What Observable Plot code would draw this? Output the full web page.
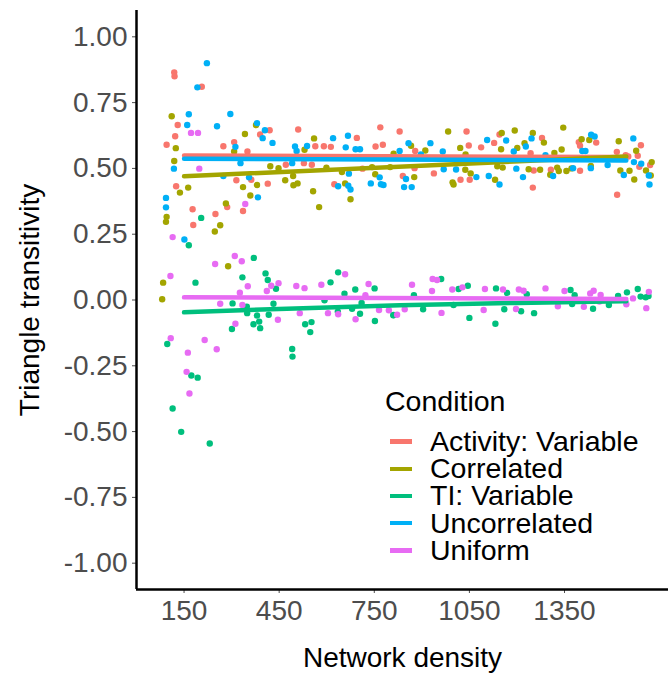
<!DOCTYPE html>
<html>
<head>
<meta charset="utf-8">
<script src="https://cdn.jsdelivr.net/npm/d3@7"></script>
<script src="https://cdn.jsdelivr.net/npm/@observablehq/plot@0.6"></script>
<style>
  html, body { margin: 0; padding: 0; background: #fff; }
  #wrap { position: relative; width: 668px; height: 673px; overflow: hidden; }
  #legend { position: absolute; left: 385px; top: 386px; font-family: "Liberation Sans", Arial, sans-serif; color: #000; }
  #legend .title { font-size: 28.5px; line-height: 30px; height: 30px; }
  #legend .rows { margin-top: 12px; }
  #legend .row { display: flex; align-items: center; height: 27.2px; font-size: 28.5px; line-height: 27px; }
  #legend .key { width: 22px; height: 4.5px; margin-left: 5px; margin-right: 18px; flex: none; }
  #legend .lab { display: inline-block; height: 27px; line-height: 27px; overflow: visible; white-space: nowrap; }
</style>
</head>
<body>
<div id="wrap">
  <div id="chart"></div>
  <div id="legend"></div>
</div>
<script>
// ---- categories, colours, ticks ----
const conditions = ["Activity: Variable", "Correlated", "TI: Variable", "Uncorrelated", "Uniform"];
const palette = ["#F8766D", "#A3A500", "#00BF7D", "#00B0F6", "#E76BF3"];
const xTicks = [150, 450, 750, 1050, 1350];
const yTicks = [-1, -0.75, -0.5, -0.25, 0, 0.25, 0.5, 0.75, 1];

// ---- scatter points (network density, triangle transitivity) ----
const activityX = [119,120,206,130,122,95,125,177,179,274,308,350,315,362,286,249,336,390,420,414,510,471,528,553,564,591,613,624,695,713,754,769,777,830,879,877,840,938,1022,1041,1048,1051,1087,1128,1145,1243,1250,1253,1279,1307,1395,1399,1399,1450,1515,1516,1543,1551,1581,1591,1586,1620];
const activityY = [0.865,0.85,0.81,0.665,0.622,0.59,0.432,0.345,0.285,0.584,0.60,0.564,0.455,0.457,0.353,0.327,0.338,0.629,0.645,0.442,0.648,0.514,0.52,0.514,0.584,0.584,0.582,0.44,0.616,0.499,0.583,0.656,0.59,0.64,0.566,0.501,0.471,0.481,0.457,0.64,0.587,0.457,0.58,0.597,0.629,0.558,0.427,0.492,0.616,0.495,0.60,0.491,0.586,0.598,0.563,0.40,0.55,0.545,0.548,0.588,0.506,0.513];

const correlatedX = [111,124,119,137,163,95,93,84,81,282,247,264,289,342,377,308,336,359,380,422,448,469,494,495,508,530,560,557,576,599,648,658,675,753,743,800,811,983,866,911,876,997,1000,1021,1038,1037,1054,1131,1138,1155,1150,1152,1193,1201,1224,1250,1237,1273,1285,1305,1318,1327,1332,1341,1346,1356,1372,1404,1428,1433,1521,1526,1555,1570,1576,1607,1622,1625];
const correlatedY = [0.698,0.577,0.528,0.408,0.427,0.316,0.297,0.066,0.003,0.367,0.26,0.284,0.128,0.631,0.665,0.564,0.429,0.397,0.437,0.508,0.501,0.455,0.471,0.436,0.443,0.571,0.614,0.413,0.353,0.503,0.486,0.443,0.383,0.478,0.505,0.505,0.556,0.64,0.586,0.568,0.467,0.447,0.439,0.578,0.553,0.495,0.481,0.457,0.508,0.503,0.573,0.635,0.644,0.578,0.596,0.635,0.497,0.495,0.598,0.476,0.559,0.503,0.49,0.572,0.655,0.49,0.5,0.611,0.608,0.509,0.603,0.492,0.491,0.458,0.567,0.492,0.473,0.524];

const tiX = [204,165,186,370,407,414,334,440,612,636,690,751,97,114,141,231,173,193,301,303,349,348,369,380,387,390,417,432,491,492,532,552,548,593,635,656,680,705,710,752,811,961,1045,1016,1050,1132,1134,1169,1160,1213,1231,1254,904,875,1369,1382,1374,1440,1490,1519,1547,1581,1590,1606,1615,810,1000];
const tiY = [0.312,0.208,0.066,0.16,0.101,0.076,0.086,0.043,0.067,0.105,0.04,0.044,-0.167,-0.412,-0.501,-0.545,-0.287,-0.295,-0.11,-0.013,-0.05,-0.025,-0.092,-0.059,-0.082,-0.107,-0.056,-0.014,-0.186,-0.215,-0.092,-0.084,-0.122,-0.001,-0.044,0.024,-0.033,-0.052,-0.011,-0.08,-0.057,0.08,0.054,0.042,-0.068,-0.09,0.044,0.027,-0.035,-0.043,0.022,-0.05,-0.035,0.018,0.038,0.018,-0.015,-0.033,-0.019,0.015,0.029,0.042,0.013,0.01,0.015,-0.058,-0.019];

const uncorrelatedX = [222,192,165,160,118,93,93,151,254,296,312,380,405,398,429,355,383,274,328,500,505,538,620,667,660,691,705,636,670,675,668,739,767,771,779,491,830,858,850,844,868,897,927,966,969,1008,1072,1106,1111,1145,1166,1190,1198,1219,1228,1246,1290,1314,1377,1406,1416,1434,1445,1433,1486,1537,1567,1569,1592,1618,1616];
const uncorrelatedY = [0.90,0.808,0.706,0.665,0.499,0.388,0.352,0.23,0.66,0.707,0.582,0.672,0.645,0.615,0.597,0.466,0.39,0.471,0.52,0.583,0.566,0.585,0.615,0.624,0.58,0.573,0.573,0.432,0.48,0.42,0.434,0.443,0.466,0.44,0.437,0.52,0.566,0.596,0.46,0.429,0.429,0.553,0.596,0.564,0.497,0.496,0.467,0.608,0.471,0.439,0.606,0.564,0.499,0.467,0.583,0.614,0.55,0.471,0.501,0.566,0.566,0.628,0.621,0.501,0.513,0.475,0.614,0.524,0.518,0.439,0.473];

const uniformX = [172,194,198,343,114,248,310,332,107,351,326,425,448,504,530,583,658,732,411,108,162,158,167,215,253,264,312,334,446,515,604,636,691,722,765,796,822,869,934,948,932,996,1028,962,1099,1095,1156,1206,1221,1197,1290,1329,1350,1411,1431,1442,1464,1460,1545,1566,1608,1616,846];
const uniformY = [0.635,0.635,0.499,0.365,0.239,0.137,0.167,0.147,0.091,0.052,0.028,0.054,0.064,0.053,0.045,0.058,0.098,0.061,0.034,-0.145,-0.2,-0.273,-0.355,-0.152,-0.187,-0.014,-0.09,-0.019,-0.075,-0.05,-0.05,-0.054,-0.073,0.018,-0.038,-0.039,-0.056,0.058,0.08,0.076,0.034,0.04,0.048,-0.049,0.042,-0.038,0.04,0.04,0.035,-0.034,0.044,-0.024,0.034,-0.026,0.025,0.035,0.019,-0.006,-0.016,0.006,-0.031,0.031,-0.035];

// ---- fitted trend lines ----
const activityFitX = [150, 1545];      const activityFitY = [0.549, 0.543];
const correlatedFitX = [150, 1545];    const correlatedFitY = [0.470, 0.545];
const tiFitX = [150, 500, 830, 1200, 1545]; const tiFitY = [-0.047, -0.032, -0.020, -0.011, -0.005];
const uncorrelatedFitX = [150, 1545];  const uncorrelatedFitY = [0.537, 0.530];
const uniformFitX = [150, 1545];       const uniformFitY = [0.010, 0.004];

// ---- build tables ----
const pointSets = [[activityX, activityY], [correlatedX, correlatedY], [tiX, tiY], [uncorrelatedX, uncorrelatedY], [uniformX, uniformY]];
const fitSets = [[activityFitX, activityFitY], [correlatedFitX, correlatedFitY], [tiFitX, tiFitY], [uncorrelatedFitX, uncorrelatedFitY], [uniformFitX, uniformFitY]];
const points = [];
pointSets.forEach(([xs, ys], i) => xs.forEach((x, j) => points.push({condition: conditions[i], x, y: ys[j]})));
const fits = [];
fitSets.forEach(([xs, ys], i) => xs.forEach((x, j) => fits.push({condition: conditions[i], x, y: ys[j]})));

const font = "'Liberation Sans', Arial, sans-serif";
const chart = Plot.plot({
  width: 668,
  height: 673,
  marginLeft: 136,
  marginRight: 0,
  marginTop: 10,
  marginBottom: 84,
  style: {fontFamily: font, fontSize: "28px", background: "#fff"},
  x: {domain: [0, 1678]},
  y: {domain: [-1.1, 1.1]},
  color: {domain: conditions, range: palette},
  marks: [
    Plot.dot(points, {x: "x", y: "y", fill: "condition", r: 3.2}),
    Plot.line(fits, {x: "x", y: "y", z: "condition", stroke: "condition", strokeWidth: 4.5, curve: "monotone-x"}),
    Plot.axisX({ticks: xTicks, tickSize: 4, tickPadding: 7, color: "#4D4D4D", label: null, tickFormat: d => String(d)}),
    Plot.axisY({ticks: yTicks, tickSize: 4, tickPadding: 5, color: "#4D4D4D", label: null, tickFormat: d => d.toFixed(2)}),
    Plot.ruleX([0], {stroke: "#000", strokeWidth: 2.5}),
    Plot.ruleY([-1.1], {stroke: "#000", strokeWidth: 2.5}),
    Plot.text(["Network density"], {frameAnchor: "bottom", dy: 77, fontSize: 28, fill: "#000"}),
    Plot.text(["Triangle transitivity"], {frameAnchor: "left", dx: -106, rotate: -90, textAnchor: "middle", fontSize: 28, fill: "#000"})
  ]
});
document.getElementById("chart").appendChild(chart);

// ---- legend ----
const legend = document.getElementById("legend");
const title = document.createElement("div");
title.className = "title";
title.textContent = "Condition";
legend.appendChild(title);
const rows = document.createElement("div");
rows.className = "rows";
conditions.forEach((c, i) => {
  const row = document.createElement("div");
  row.className = "row";
  const key = document.createElement("span");
  key.className = "key";
  key.style.background = palette[i];
  const label = document.createElement("span");
  label.className = "lab";
  label.textContent = c;
  row.appendChild(key);
  row.appendChild(label);
  rows.appendChild(row);
});
legend.appendChild(rows);
</script>
</body>
</html>
